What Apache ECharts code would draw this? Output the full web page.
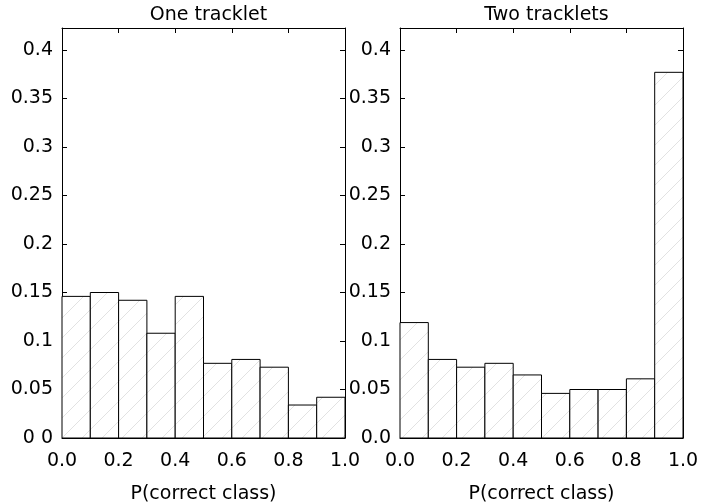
<!DOCTYPE html>
<html><head><meta charset="utf-8">
<script src="https://cdn.jsdelivr.net/npm/echarts@6/dist/echarts.min.js"></script>
<style>html,body{margin:0;padding:0;background:#fff}#c{width:723px;height:502px}</style>
</head><body><div id="c"></div>
<script>
const binStarts = [0.0,0.1,0.2,0.3,0.4,0.5,0.6,0.7,0.8,0.9];
const binWidth = 0.1;
const oneTracklet = [0.146,0.150,0.142,0.108,0.146,0.077,0.081,0.073,0.034,0.042];
const twoTracklets = [0.119,0.081,0.073,0.077,0.065,0.046,0.050,0.050,0.061,0.377];
const titles = ['One tracklet','Two tracklets'];
const xTickLabels = ['0.0','0.2','0.4','0.6','0.8','1.0'];
const yTickValues = [0,0.05,0.1,0.15,0.2,0.25,0.3,0.35,0.4];
const yTickLabelsLeft = ['0 0','0.05','0.1','0.15','0.2','0.25','0.3','0.35','0.4'];
const yTickLabelsRight = ['0.0','0.05','0.1','0.15','0.2','0.25','0.3','0.35','0.4'];
const xLabel = 'P(correct class)';
const yMax = 0.4227;

const T = 20;
const pc = document.createElement('canvas');
pc.width = T; pc.height = T;
const g = pc.getContext('2d');
g.fillStyle = '#fff'; g.fillRect(0,0,T,T);
g.strokeStyle = '#e2e2e2'; g.lineWidth = 1;
[[-1,T+1,T+1,-1],[-T/2-1,T/2+1,T/2+1,-T/2-1],[T/2-1,T*1.5+1,T*1.5+1,T/2-1]].forEach(l=>{
  g.beginPath(); g.moveTo(l[0],l[1]); g.lineTo(l[2],l[3]); g.stroke();
});
const hatch = {image: pc, repeat: 'repeat'};

const font = 'DejaVu Sans';
const fs = 19;
const grids = [
  {left:62, top:28, width:283, height:410, containLabel:false, outerBoundsMode:'none'},
  {left:400, top:28, width:283, height:410, containLabel:false, outerBoundsMode:'none'}
];
function findIdx(v){ for(let i=0;i<yTickValues.length;i++){ if(Math.abs(v-yTickValues[i])<1e-6) return i;} return -1; }
const xAxes=[], yAxes=[], series=[], titleArr=[];
[oneTracklet, twoTracklets].forEach((vals, k) => {
  const yl = k===0 ? yTickLabelsLeft : yTickLabelsRight;
  xAxes.push({gridIndex:k, type:'value', min:0, max:1, interval:0.2, position:'bottom',
    axisLine:{show:true, onZero:false, lineStyle:{color:'#000', width:1}},
    axisTick:{show:true, inside:true, length:5, lineStyle:{color:'#000'}},
    splitLine:{show:false},
    axisLabel:{color:'#000', fontFamily:font, fontSize:fs, margin:14, formatter:v=>xTickLabels[Math.round(v/0.2)]},
    name:xLabel, nameLocation:'middle', nameGap:47, nameTextStyle:{color:'#000', fontFamily:font, fontSize:fs}});
  xAxes.push({gridIndex:k, type:'value', min:0, max:1, interval:0.2, position:'top',
    axisLine:{show:true, onZero:false, lineStyle:{color:'#000', width:1}},
    axisTick:{show:true, inside:true, length:5, lineStyle:{color:'#000'}},
    splitLine:{show:false}, axisLabel:{show:false}});
  yAxes.push({gridIndex:k, type:'value', min:0, max:yMax, interval:0.05, position:'left',
    axisLine:{show:true, onZero:false, lineStyle:{color:'#000', width:1}},
    axisTick:{show:true, inside:true, length:5, lineStyle:{color:'#000'}},
    splitLine:{show:false}, showMaxLabel:false,
    axisLabel:{color:'#000', fontFamily:font, fontSize:fs, margin:9, formatter:v=>{const i=findIdx(v); return i<0?'':yl[i];}}});
  yAxes.push({gridIndex:k, type:'value', min:0, max:yMax, interval:0.05, position:'right',
    axisLine:{show:true, onZero:false, lineStyle:{color:'#000', width:1}},
    axisTick:{show:true, inside:true, length:5, lineStyle:{color:'#000'}},
    splitLine:{show:false}, axisLabel:{show:false}});
  series.push({type:'custom', xAxisIndex:2*k, yAxisIndex:2*k,
    data: binStarts.map((b,i)=>[b, b+binWidth, vals[i]]),
    encode:{x:[0,1], y:2},
    renderItem:(params, api)=>{
      const p0 = api.coord([api.value(0), api.value(2)]);
      const p1 = api.coord([api.value(1), 0]);
      return {type:'rect', shape:{x:p0[0], y:p0[1], width:p1[0]-p0[0], height:p1[1]-p0[1]},
        style:{fill:hatch, stroke:'#000', lineWidth:1}};
    }});
  titleArr.push({text:titles[k], left:grids[k].left+grids[k].width/2, top:1, textAlign:'center',
    textStyle:{color:'#000', fontFamily:font, fontSize:fs, fontWeight:'normal'}});
});
const chart = echarts.init(document.getElementById('c'), null, {renderer:'canvas'});
chart.setOption({animation:false, backgroundColor:'#fff', title:titleArr, grid:grids, xAxis:xAxes, yAxis:yAxes, series:series});
</script></body></html>
